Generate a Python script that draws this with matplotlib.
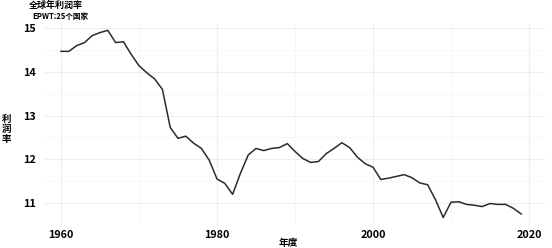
import matplotlib
matplotlib.use("Agg")
import matplotlib.pyplot as plt
import numpy as np
from matplotlib.ticker import MultipleLocator

plt.rcParams['font.family'] = ['Noto Sans CJK SC', 'DejaVu Sans']
plt.rcParams['font.weight'] = 'bold'

# global profit rate, EPWT (25 countries), 1960-2019
years = np.arange(1960, 2020)
profit_rate = [
    14.47, 14.47, 14.60, 14.67, 14.83, 14.90, 14.95, 14.67, 14.69, 14.40,
    14.14, 13.98, 13.84, 13.60, 12.73, 12.48, 12.53, 12.37, 12.25, 11.98,
    11.55, 11.45, 11.20, 11.68, 12.10, 12.25, 12.20, 12.25, 12.27, 12.36,
    12.18, 12.02, 11.93, 11.95, 12.13, 12.25, 12.38, 12.27, 12.05, 11.90,
    11.82, 11.54, 11.57, 11.61, 11.65, 11.58, 11.46, 11.42, 11.08, 10.67,
    11.02, 11.03, 10.97, 10.95, 10.92, 10.99, 10.97, 10.97, 10.88, 10.75,
]

title = "全球年利润率"
subtitle = "EPWT:25个国家"
ylabel = "利\n润\n率"
xlabel = "年度"

fig = plt.figure(figsize=(5.52, 2.48), dpi=100)
ax = fig.add_axes([0.0823, 0.093, 0.9043, 0.811])

ax.plot(years, profit_rate, color="#2b2b2b", linewidth=1.1)

ax.set_xlim(1958, 2022)
ax.set_ylim(10.5, 15.1)
ax.xaxis.set_major_locator(MultipleLocator(20))
ax.xaxis.set_minor_locator(MultipleLocator(10))
ax.yaxis.set_major_locator(MultipleLocator(1))
ax.yaxis.set_minor_locator(MultipleLocator(0.5))

ax.grid(which="major", color="#ededed", linewidth=0.8)
ax.grid(which="minor", color="#f6f6f6", linewidth=0.6)
ax.set_axisbelow(True)
for s in ax.spines.values():
    s.set_visible(False)
ax.tick_params(which="both", length=0)
ax.tick_params(axis="y", pad=7, labelsize=7.8)
ax.tick_params(axis="x", pad=4, labelsize=7.8)
for lab in ax.get_xticklabels() + ax.get_yticklabels():
    lab.set_fontweight("bold")

fig.text(0.053, 0.98, title, fontsize=6.5, fontweight="bold", va="center", ha="left")
fig.text(0.058, 0.935, subtitle, fontsize=5.5, fontweight="bold", va="center", ha="left")
fig.text(0.012, 0.48, ylabel, fontsize=6.8, fontweight="bold", va="center", ha="center",
         linespacing=1.0)
fig.text(0.523, 0.02, xlabel, fontsize=7, fontweight="bold", va="center", ha="center")

fig.savefig("out.png", dpi=100)
